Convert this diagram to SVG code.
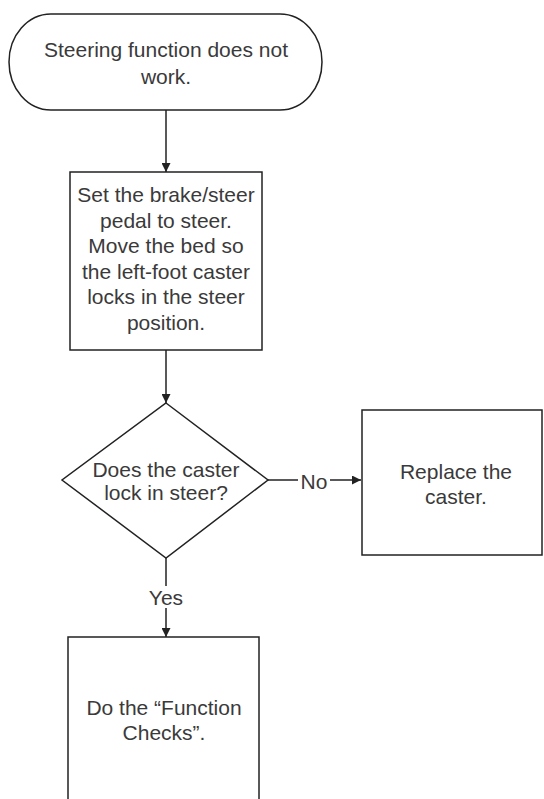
<svg xmlns="http://www.w3.org/2000/svg" width="544" height="799" viewBox="0 0 544 799">
<defs>
<marker id="ah" viewBox="0 0 10 10" refX="10" refY="5" markerWidth="9" markerHeight="9" markerUnits="userSpaceOnUse" orient="auto">
<path d="M0,0 L10,5 L0,10 z" fill="#222"/>
</marker>
<style>
.n{fill:#fff;stroke:#222;stroke-width:1.5}
.t{font-family:"Liberation Sans",Arial,sans-serif;font-size:21px;fill:#3a3a3a;text-anchor:middle}
.l{font-family:"Liberation Sans",Arial,sans-serif;font-size:21px;fill:#3a3a3a;text-anchor:middle;dominant-baseline:central}
.c{stroke:#222;stroke-width:1.5;fill:none}
</style>
</defs>
<rect width="544" height="799" fill="#fff"/>
<g id="connectors">
<line class="c" x1="166" y1="110" x2="166" y2="172" marker-end="url(#ah)"/>
<line class="c" x1="166" y1="350" x2="166" y2="403" marker-end="url(#ah)"/>
<line class="c" x1="268" y1="480" x2="361" y2="480" marker-end="url(#ah)"/>
<line class="c" x1="166" y1="558" x2="166" y2="637" marker-end="url(#ah)"/>
<rect x="298" y="470" width="32" height="20" fill="#fff"/>
<text class="l" x="314" y="481">No</text>
<rect x="146" y="586" width="40" height="22" fill="#fff"/>
<text class="l" x="166" y="597">Yes</text>
</g>
<g id="start">
<rect class="n" x="9" y="14" width="313" height="96" rx="42" ry="48"/>
<text class="t" x="166" y="57">Steering function does not</text>
<text class="t" x="166" y="84">work.</text>
</g>
<g id="step1">
<rect class="n" x="70" y="172" width="192" height="178"/>
<text class="t" x="166" y="202">Set the brake/steer</text>
<text class="t" x="166" y="228">pedal to steer.</text>
<text class="t" x="166" y="253">Move the bed so</text>
<text class="t" x="166" y="279">the left-foot caster</text>
<text class="t" x="166" y="304">locks in the steer</text>
<text class="t" x="166" y="330">position.</text>
</g>
<g id="decision">
<polygon class="n" points="166,403 268,480 166,558 62,480"/>
<text class="t" x="166" y="477">Does the caster</text>
<text class="t" x="166" y="500">lock in steer?</text>
</g>
<g id="replace">
<rect class="n" x="362" y="410" width="180" height="145"/>
<text class="t" x="456" y="479">Replace the</text>
<text class="t" x="456" y="504">caster.</text>
</g>
<g id="checks">
<rect class="n" x="68" y="637" width="191" height="175"/>
<text class="t" x="164" y="715">Do the “Function</text>
<text class="t" x="164" y="740">Checks”.</text>
</g>
</svg>
